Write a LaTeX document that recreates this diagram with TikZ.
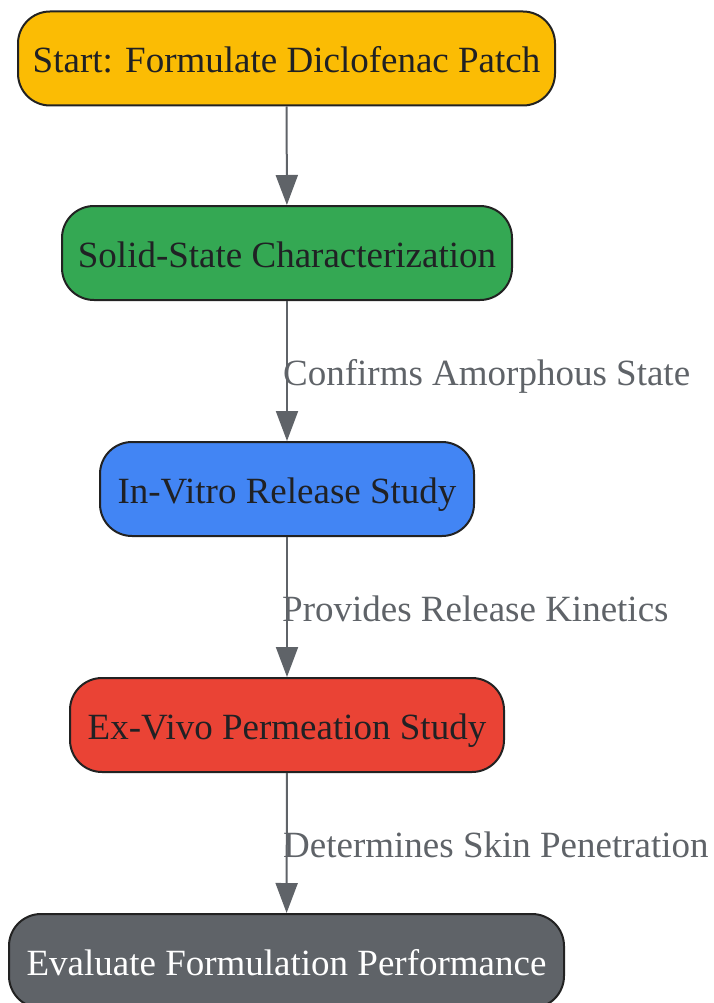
\documentclass[tikz,border=0pt]{standalone}
\usepackage{fontspec}
\setmainfont{Liberation Serif}
\usetikzlibrary{arrows.meta}
\definecolor{cyel}{HTML}{FBBC04}
\definecolor{cgrn}{HTML}{34A853}
\definecolor{cblu}{HTML}{4285F4}
\definecolor{cred}{HTML}{EA4335}
\definecolor{cgry}{HTML}{5F6368}
\definecolor{cedge}{HTML}{5F6368}
\definecolor{cborder}{HTML}{222222}
\definecolor{ctext}{HTML}{202124}
\begin{document}
\begin{tikzpicture}[x=1pt,y=-1pt,
  box/.style={draw=cborder, line width=2pt, rounded corners=32pt, minimum height=94pt,
    inner sep=0pt, font=\fontsize{37}{44}\selectfont, text=ctext, text height=36pt, text depth=8pt},
  flow/.style={draw=cedge, line width=2pt, -{Triangle[length=30pt,width=22pt]}},
  lbl/.style={anchor=base west, inner sep=0pt, text=cedge, font=\fontsize{37}{44}\selectfont}]
\useasboundingbox (0,0) rectangle (714,1003);
\clip (0,0) rectangle (714,1003);
\node[box, fill=cyel, minimum width=537pt] (n1) at (286.5,58.5) {Start: Formulate Diclofenac Patch};
\node[box, fill=cgrn, minimum width=450pt] (n2) at (287,253) {Solid-State Characterization};
\node[box, fill=cblu, minimum width=374pt] (n3) at (287,489) {In-Vitro Release Study};
\node[box, fill=cred, minimum width=434pt] (n4) at (287,725) {Ex-Vivo Permeation Study};
\node[box, fill=cgry, text=white, minimum width=555pt] (n5) at (286.5,961) {Evaluate Formulation Performance};
\draw[flow] (n1) -- (n2);
\draw[flow] (n2) -- (n3);
\draw[flow] (n3) -- (n4);
\draw[flow] (n4) -- (n5);
\node[lbl] (l1) at (283,385) {Confirms Amorphous State};
\node[lbl] (l2) at (282,621) {Provides Release Kinetics};
\node[lbl] (l3) at (283,857) {Determines Skin Penetration};
\end{tikzpicture}
\end{document}
